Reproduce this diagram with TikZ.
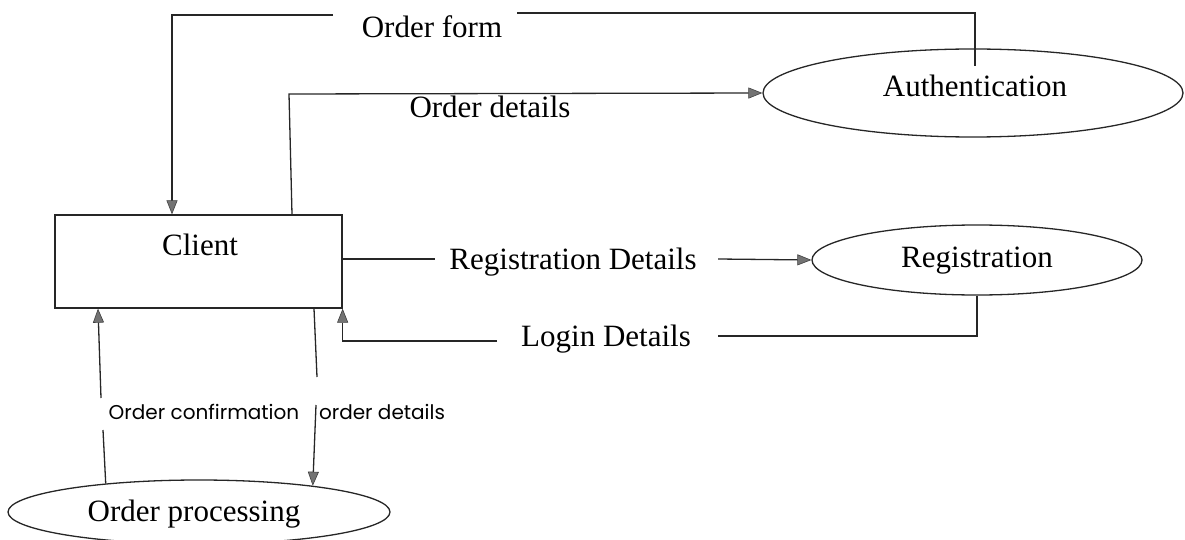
\documentclass[tikz,border=0pt]{standalone}
\usepackage{fontspec}
\setmainfont{Liberation Serif}
\newfontfamily\gothic{Poppins}
\usetikzlibrary{arrows.meta,shapes.geometric}

\begin{document}
\begin{tikzpicture}[x=1pt,y=-1pt,
  flow/.style={draw=black!85, line width=1.3pt},
  tipped/.style={flow, -{Triangle[length=14pt,width=11pt,fill=black!55,color=black!75,line width=0.6pt]}},
  lbl/.style={font=\fontsize{31}{36}\selectfont, inner sep=0pt},
  small/.style={font=\gothic\fontsize{20}{24}\selectfont, inner sep=0pt},
  bubble/.style={ellipse, draw=black!85, line width=1.3pt, inner sep=0pt},
  entity/.style={rectangle, draw=black!85, line width=1.3pt, inner sep=0pt},
]
\useasboundingbox (0,0) rectangle (1185,540);
\clip (0,0) rectangle (1185,540);

% external entity and processes
\node[entity, minimum width=287pt, minimum height=93pt] (client) at (198.5,261.5) {};
\node[lbl] (clientT) at (200,245) {Client};

\node[bubble, minimum width=420pt, minimum height=88pt] (auth) at (973,93) {};
\node[lbl] (authT) at (975,86) {Authentication};

\node[bubble, minimum width=330pt, minimum height=70pt] (reg) at (977,260) {};
\node[lbl] (regT) at (977,261) {Registration};

\node[bubble, minimum width=382pt, minimum height=64pt] (proc) at (199,512) {};
\node[lbl] (procT) at (194,514) {Order processing};

% flow labels
\node[lbl] (tOF) at (432,27) {Order form};
\node[lbl] (tOD) at (490,107) {Order details};
\node[lbl] (tRD) at (573,262) {Registration Details};
\node[lbl] (tLD) at (606,339) {Login Details};
\node[small] (tOC) at (204,412) {Order confirmation};
\node[small] (tDD) at (382,412) {order details};

% Order form: Authentication -> Client
\coordinate (ofA) at (975,66);
\coordinate (ofR) at (517,13);
\coordinate (ofL) at (333,15);
\coordinate (ofC) at (172,15);
\draw[flow] (ofA) |- (ofR);
\draw[tipped] (ofL) -- (ofC) -- (ofC |- client.north);

% Order details: Client -> Authentication
\coordinate (odK) at (289,94);
\coordinate (odS) at (292,0);
\draw[tipped] (odS |- client.north) -- (odK) -- (auth.west);

% Registration Details: Client -> Registration
\coordinate (rdL) at (435,259);
\coordinate (rdR) at (718,259);
\draw[flow] (client.east |- rdL) -- (rdL);
\draw[tipped] (rdR) -- (reg.west);

% Login Details: Registration -> Client
\coordinate (ldR) at (718,336);
\coordinate (ldL) at (497,341);
\draw[flow] (reg.south) |- (ldR);
\draw[tipped] (ldL) -- (ldL -| client.east) -- (client.south east);

% Order confirmation: Order processing -> Client
\coordinate (ocB) at (103,430);
\coordinate (ocT) at (101,398);
\coordinate (ocE) at (98,0);
\draw[flow] (proc.163) -- (ocB);
\draw[tipped] (ocT) -- (ocE |- client.south);

% order details: Client -> Order processing
\coordinate (ddS) at (314,0);
\coordinate (dd1) at (317,377);
\coordinate (dd2) at (316,405);
\draw[flow] (ddS |- client.south) -- (dd1);
\draw[tipped] (dd2) -- (proc.13);
\end{tikzpicture}
\end{document}
